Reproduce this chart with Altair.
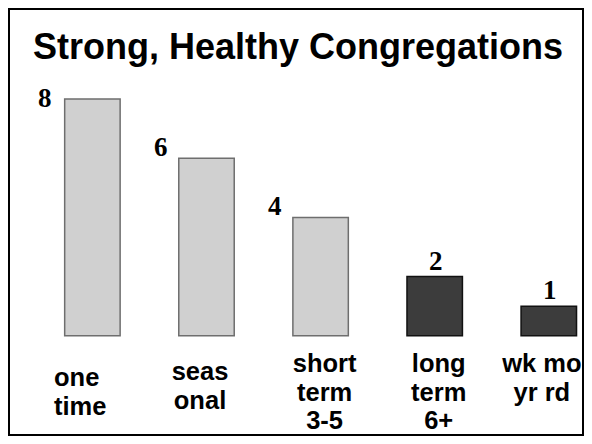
import altair as alt
import pandas as pd

title_text = "Strong, Healthy Congregations"
categories = ["one time", "seas onal", "short term 3-5", "long term 6+", "wk mo yr rd"]
label_lines = [["one", "time"], ["seas", "onal"], ["short", "term", "3-5"], ["long", "term", "6+"], ["wk mo", "yr rd"]]
values = [8, 6, 4, 2, 1]
groups = ["light", "light", "light", "dark", "dark"]

df = pd.DataFrame({
    "cat": categories,
    "label": ["\n".join(l) for l in label_lines],
    "value": values,
    "group": groups,
})

W, H = 574, 426

x = alt.X("cat:N", sort=categories, axis=None,
          scale=alt.Scale(range=[26.35, 596.85], paddingInner=0.514, paddingOuter=0.257))
y = alt.Y("value:Q", axis=None, scale=alt.Scale(domain=[0, 10], range=[326.8, 30.8]))

base = alt.Chart(df)

light_bars = base.transform_filter(alt.datum.group == "light").mark_bar(
    fill="#d0d0d0", stroke="#6e6e6e", strokeWidth=1.5
).encode(x=x, y=y, y2=alt.value(336.5))

dark_bars = base.transform_filter(alt.datum.group == "dark").mark_bar(
    fill="#3c3c3c", stroke="#111111", strokeWidth=1.5
).encode(x=x, y=y, y2=alt.value(341))

val_font = dict(font="Liberation Serif", fontWeight="bold", fontSize=27, color="#000000")
first_val = base.transform_filter(alt.datum.cat == "one time").mark_text(
    align="right", baseline="alphabetic", dx=-41, dy=8, **val_font
).encode(x=x, y=y, text="value:Q")

light_vals = base.transform_filter(
    (alt.datum.group == "light") & (alt.datum.cat != "one time")
).mark_text(
    align="right", baseline="alphabetic", dx=-39, dy=-2, **val_font
).encode(x=x, y=y, text="value:Q")

dark_vals = base.transform_filter(alt.datum.group == "dark").mark_text(
    align="center", baseline="alphabetic", dx=1, dy=-7, **val_font
).encode(x=x, y=y, text="value:Q")

lab_font = dict(font="Liberation Sans", fontWeight="bold", fontSize=25.5, color="#000000",
                lineBreak="\n", lineHeight=28.5, baseline="alphabetic")
lab_one = base.transform_filter(alt.datum.cat == "one time").mark_text(
    align="left", dx=-38.4, **lab_font
).encode(x=x, y=alt.value(377), text="label:N")
lab_seas = base.transform_filter(alt.datum.cat == "seas onal").mark_text(
    align="center", dx=-6.5, **lab_font
).encode(x=x, y=alt.value(371), text="label:N")
lab_mid = base.transform_filter(
    (alt.datum.cat == "short term 3-5") | (alt.datum.cat == "long term 6+")
).mark_text(align="center", dx=4, **lab_font).encode(x=x, y=alt.value(363), text="label:N")
lab_wk = base.transform_filter(alt.datum.cat == "wk mo yr rd").mark_text(
    align="center", dx=-7, **lab_font
).encode(x=x, y=alt.value(363), text="label:N")

title = alt.Chart(pd.DataFrame({"t": [title_text]})).mark_text(
    align="left", baseline="alphabetic", font="Liberation Sans", fontWeight="bold",
    fontSize=36, color="#000000"
).encode(x=alt.value(24), y=alt.value(50), text="t:N")

chart = alt.layer(
    title, light_bars, dark_bars, first_val, light_vals, dark_vals,
    lab_one, lab_seas, lab_mid, lab_wk
).properties(
    width=W, height=H, padding=1, autosize="none", background="#ffffff"
).configure_view(stroke="#000000", strokeWidth=2)

chart.save("out.html", embed_options={"renderer": "svg", "actions": False})
